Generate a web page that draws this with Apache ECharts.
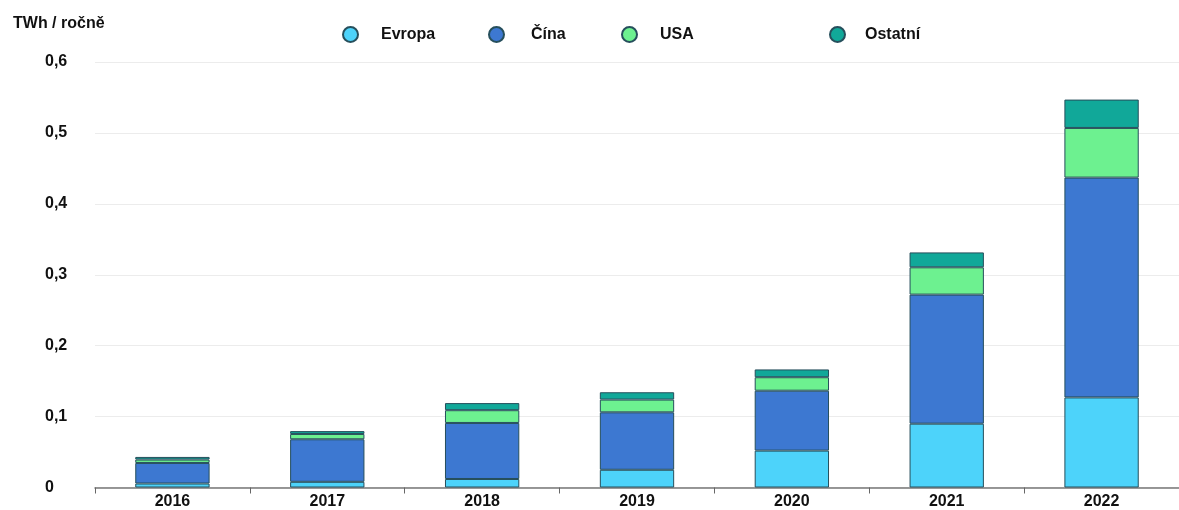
<!DOCTYPE html>
<html>
<head>
<meta charset="utf-8">
<script src="https://cdn.jsdelivr.net/npm/echarts@6/dist/echarts.min.js"></script>
<style>html,body{margin:0;padding:0;background:#fff}#c{width:1179px;height:510px}</style>
</head>
<body>
<div id="c"></div>
<script>
const categories = ['2016', '2017', '2018', '2019', '2020', '2021', '2022'];
const evropa = [0.0056, 0.008, 0.012, 0.025, 0.052, 0.090, 0.127];
const cina = [0.029, 0.060, 0.079, 0.081, 0.0845, 0.182, 0.310];
const usa = [0.0048, 0.0075, 0.018, 0.018, 0.019, 0.0385, 0.070];
const ostatni = [0.0037, 0.004, 0.010, 0.0103, 0.011, 0.021, 0.040];
const seriesNames = ['Evropa', 'Čína', 'USA', 'Ostatní'];
const yTicks = [0, 0.1, 0.2, 0.3, 0.4, 0.5, 0.6];

const FONT = '"Liberation Sans", Arial, sans-serif';
const colors = ['#4dd3fa', '#3d78d1', '#6df190', '#11a899'];
const dataSets = [evropa, cina, usa, ostatni];
const legendLeft = [337, 483, 616, 824];
const legendPad = [18, 22, 18, 15];

const chart = echarts.init(document.getElementById('c'));
chart.setOption({
  animation: false,
  title: {
    text: 'TWh / ročně', left: 8, top: 11,
    textStyle: { fontFamily: FONT, fontWeight: 'bold', fontSize: 16, color: '#111' }
  },
  legend: seriesNames.map((n, i) => ({
    data: [n], left: legendLeft[i], top: 21, icon: 'circle', itemWidth: 15, itemHeight: 15,
    textStyle: { fontFamily: FONT, fontWeight: 'bold', fontSize: 16, color: '#111', padding: [0, 0, 0, legendPad[i]] }
  })),
  grid: { left: 95, top: 62, width: 1094, height: 425.5 },
  xAxis: {
    type: 'category', data: categories,
    axisLine: { lineStyle: { color: '#777', width: 1.5 } },
    axisTick: { show: true, length: 6, lineStyle: { color: '#666' } },
    axisLabel: { margin: 6, fontFamily: FONT, fontWeight: 'bold', fontSize: 16, color: '#111' }
  },
  yAxis: {
    type: 'value', min: 0, max: 0.6, interval: 0.1,
    axisLine: { show: false }, axisTick: { show: false },
    splitLine: { lineStyle: { color: '#ececec' } },
    axisLabel: {
      align: 'left', margin: 50, fontFamily: FONT, fontWeight: 'bold', fontSize: 16, color: '#111',
      formatter: v => { const t = yTicks.find(x => Math.abs(x - v) < 1e-9); return t === 0 ? '0' : String(+(t ?? v).toFixed(1)).replace('.', ','); }
    }
  },
  series: seriesNames.map((n, i) => ({
    name: n, type: 'bar', stack: 'total', barWidth: '48%', data: dataSets[i],
    itemStyle: { color: colors[i], borderColor: '#264f5c', borderWidth: 1 }
  }))
});
</script>
</body>
</html>
